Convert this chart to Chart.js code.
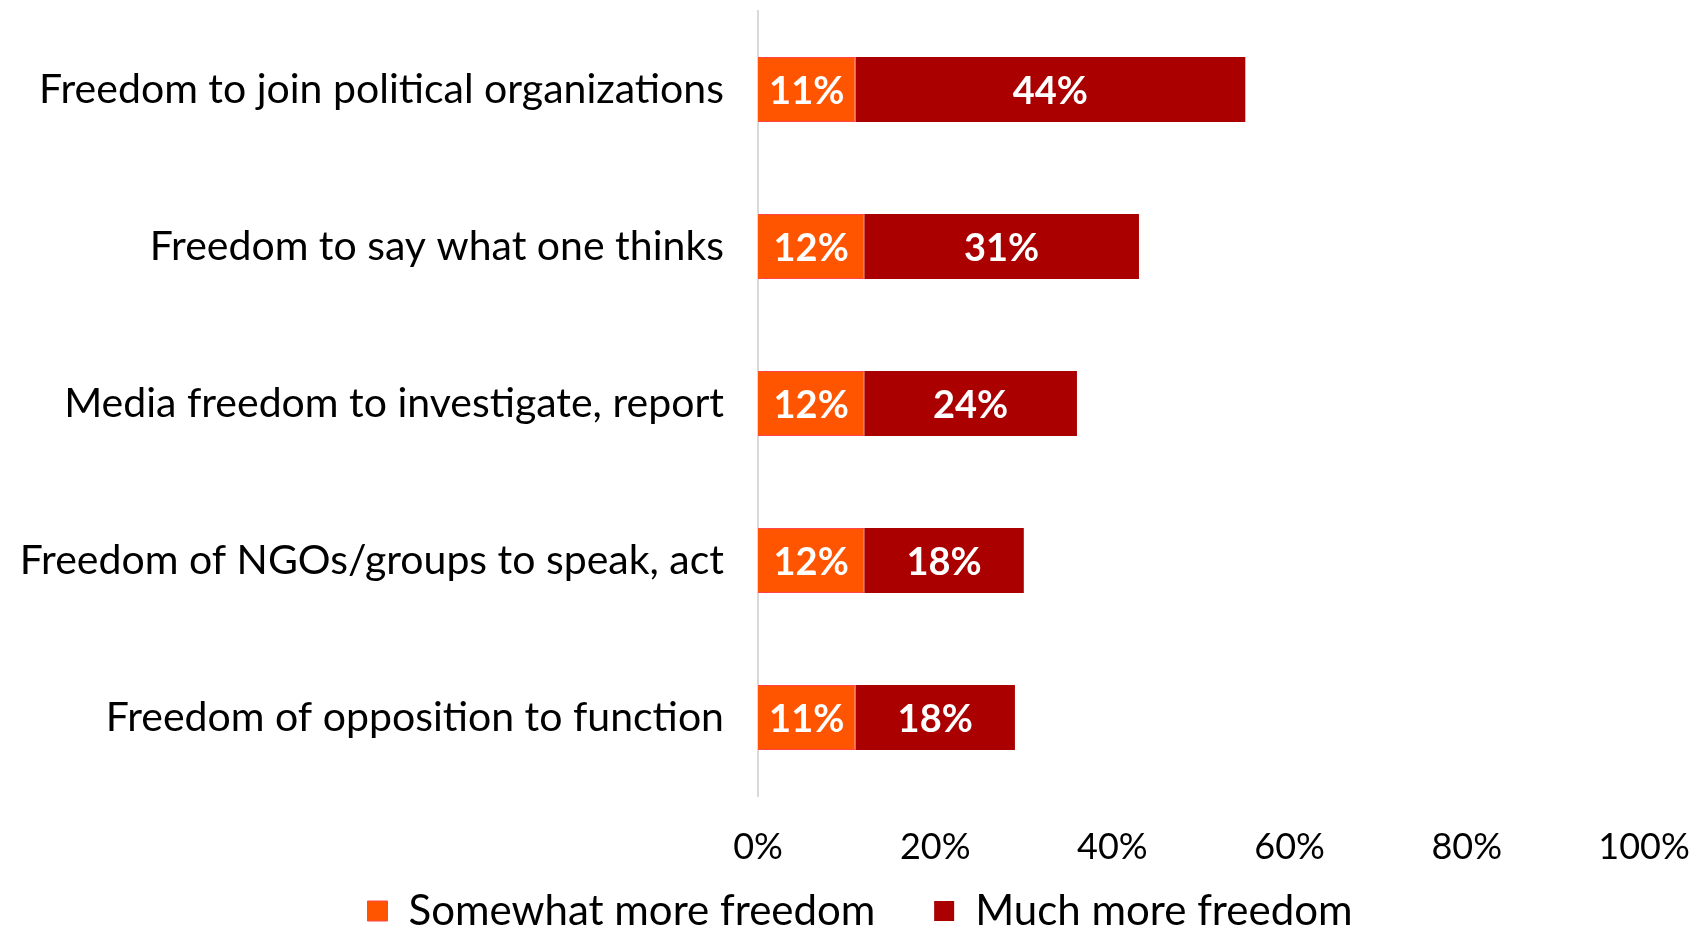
<!DOCTYPE html>
<html>
<head>
<meta charset="utf-8">
<title>More freedom</title>
<script src="https://cdn.jsdelivr.net/npm/chart.js@4/dist/chart.umd.min.js"></script>
<style>
    html, body { margin: 0; padding: 0; background: #fff; }
    #wrap { width: 1705px; height: 930px; }
</style>
</head>
<body>
<div id="wrap"><canvas id="freedomChart" width="1705" height="930"></canvas></div>
<script>
    const categories = [
        'Freedom to join political organizations',
        'Freedom to say what one thinks',
        'Media freedom to investigate, report',
        'Freedom of NGOs/groups to speak, act',
        'Freedom of opposition to function'
    ];
    const somewhatMore = [11, 12, 12, 12, 11];
    const muchMore = [44, 31, 24, 18, 18];
    const xTicks = [0, 20, 40, 60, 80, 100];

    const FONT = 'Lato, "Noto Sans", sans-serif';

    // white value labels in the middle of each segment
    const segmentLabels = {
        id: 'segmentLabels',
        afterDatasetsDraw(chart) {
            const ctx = chart.ctx;
            ctx.save();
            ctx.fillStyle = '#ffffff';
            ctx.font = 'bold 38px ' + FONT;
            ctx.textAlign = 'center';
            ctx.textBaseline = 'middle';
            chart.data.datasets.forEach((ds, i) => {
                chart.getDatasetMeta(i).data.forEach((bar, j) => {
                    const cx = (bar.x + bar.base) / 2;
                    ctx.fillText(ds.data[j] + '%', cx, bar.y + 2);
                });
            });
            ctx.restore();
        }
    };

    new Chart(document.getElementById('freedomChart').getContext('2d'), {
        type: 'bar',
        data: {
            labels: categories,
            datasets: [{
                label: 'Somewhat more freedom',
                data: somewhatMore,
                backgroundColor: '#ff5500',
                borderColor: '#ff4545',
                borderWidth: 1,
                categoryPercentage: 0.825,
                barPercentage: 0.5
            }, {
                label: 'Much more freedom',
                data: muchMore,
                backgroundColor: '#aa0000',
                borderWidth: 0,
                categoryPercentage: 0.825,
                barPercentage: 0.5
            }]
        },
        options: {
            indexAxis: 'y',
            responsive: false,
            animation: false,
            layout: { padding: { top: 11, right: 0, left: 15, bottom: -12 } },
            scales: {
                x: {
                    stacked: true,
                    min: 0,
                    max: 100,
                    afterBuildTicks: s => { s.ticks = xTicks.map(v => ({ value: v })); },
                    afterFit: s => { s.height = 93; s.paddingLeft = 0; s.paddingRight = 0; },
                    grid: { display: false },
                    border: { display: false },
                    ticks: {
                        color: '#000',
                        padding: 22,
                        font: { family: FONT, size: 36 },
                        callback: v => v + '%'
                    }
                },
                y: {
                    stacked: true,
                    // axis line sits at x = 758
                    afterFit: s => { s.width = 743; s.paddingTop = 0; s.paddingBottom = 0; },
                    grid: { display: false },
                    border: { display: true, color: '#d9d9d9', width: 2 },
                    ticks: {
                        color: '#000',
                        padding: 26,
                        font: { family: FONT, size: 41 }
                    }
                },
                // empty right-hand strip so the plot ends at x = 1644
                gutter: {
                    type: 'linear',
                    axis: 'y',
                    position: 'right',
                    afterFit: s => { s.width = 61; },
                    grid: { display: false },
                    border: { display: false },
                    ticks: { display: false }
                }
            },
            plugins: {
                legend: {
                    position: 'bottom',
                    labels: {
                        color: '#000',
                        boxWidth: 20,
                        boxHeight: 20,
                        padding: 1,
                        font: { family: FONT, size: 42, lineHeight: 0.8 },
                        // extra gap after the first entry only
                        generateLabels: chart => Chart.defaults.plugins.legend.labels.generateLabels(chart)
                            .map((item, i) => i === 0 ? Object.assign(item, { text: item.text + '\u2003\u2002\u2009' }) : item)
                    }
                },
                tooltip: { enabled: false }
            }
        },
        plugins: [segmentLabels]
    });
</script>
</body>
</html>
